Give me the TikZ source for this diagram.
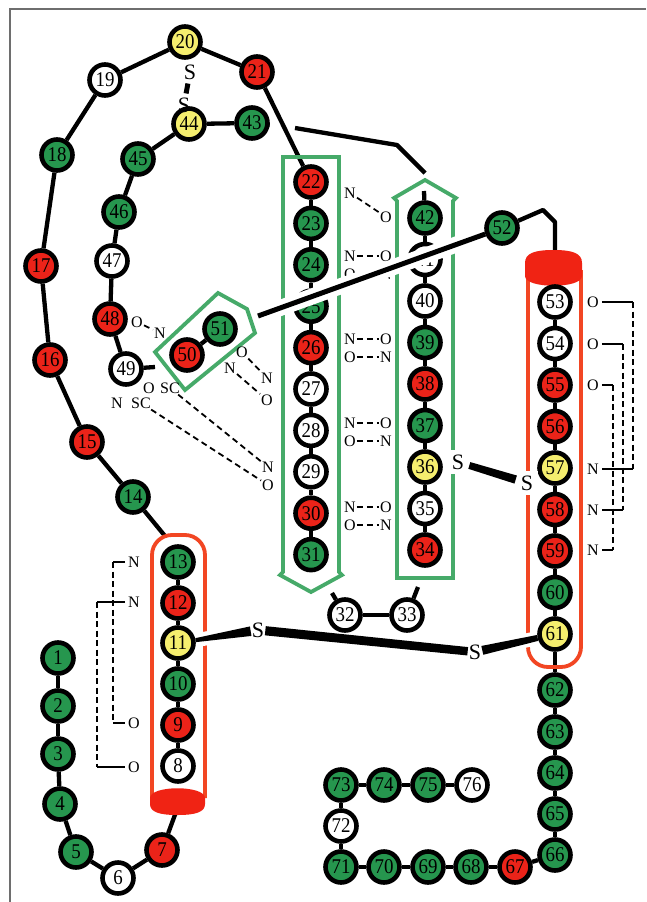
\documentclass[tikz,border=0pt]{standalone}
\usepackage{fontspec}
\setmainfont{Liberation Serif}
\newfontfamily\numfam[FakeStretch=0.9]{Liberation Serif}
\usetikzlibrary{calc}
\newcommand\resfont{\numfam\fontsize{21}{21}\selectfont}
\newcommand\labfont{\fontsize{16}{16}\selectfont}
\newcommand\ssfont{\fontsize{22}{22}\selectfont}
% tapered bond between two nodes: #1 start, #2 end, #3/#4 half widths
\newcommand\wedgebond[4]{%
  \path (#1) -- (#2) coordinate[pos=0] (wA) coordinate[pos=1] (wB);
  \fill ($(wA)!#3!90:(wB)$) -- ($(wB)!#4!-90:(wA)$) -- ($(wB)!#4!90:(wA)$) -- ($(wA)!#3!-90:(wB)$) -- cycle;}
\definecolor{resgreen}{RGB}{38,150,78}
\definecolor{resred}{RGB}{235,35,25}
\definecolor{resyellow}{RGB}{245,238,110}
\definecolor{helixred}{RGB}{242,70,35}
\definecolor{capred}{RGB}{240,35,20}
\definecolor{sheetgreen}{RGB}{70,170,105}
\definecolor{framegray}{RGB}{110,110,110}
\pgfdeclarelayer{backbone}
\pgfdeclarelayer{outlines}
\pgfdeclarelayer{front}
\pgfsetlayers{backbone,outlines,main,front}
\begin{document}
\begin{tikzpicture}[x=1pt,y=-1pt,
  res/.style={circle,draw=black,line width=4.6pt,minimum size=31pt,inner sep=0pt,font=\resfont},
  gres/.style={res,fill=resgreen},
  rres/.style={res,fill=resred},
  yres/.style={res,fill=resyellow},
  wres/.style={res,fill=white},
  link/.style={line width=4.3pt,line join=round},
  sheet/.style={draw=sheetgreen,line width=3.8pt,line join=miter},
  helix/.style={draw=helixred,line width=3.8pt},
  lab/.style={font=\labfont,inner sep=1pt},
  blab/.style={font=\labfont,inner sep=3pt},
  sulf/.style={font=\ssfont,inner sep=1pt},
  sgap/.style={font=\ssfont,inner sep=5pt,fill=white},
  hb/.style={line width=1.8pt,dash pattern=on 6pt off 4pt},
  brk/.style={line width=1.8pt,dash pattern=on 6pt off 3.5pt},
  brkend/.style={line width=1.8pt},
]
\useasboundingbox (0,0) rectangle (646,902);

% ---------- residues ----------
\node[gres] (n1) at (58,658) {1};
\node[gres] (n2) at (58,706) {2};
\node[gres] (n3) at (58,754) {3};
\node[gres] (n4) at (60,804) {4};
\node[gres] (n5) at (76,852) {5};
\node[wres] (n6) at (118,878) {6};
\node[rres] (n7) at (162,850) {7};
\node[wres] (n8) at (178,766) {8};
\node[rres] (n9) at (178,725) {9};
\node[gres] (n10) at (178,684) {10};
\node[yres] (n11) at (178,643) {11};
\node[rres] (n12) at (178,603) {12};
\node[gres] (n13) at (178,562) {13};
\node[gres] (n14) at (133,497) {14};
\node[rres] (n15) at (87,442) {15};
\node[rres] (n16) at (50,360) {16};
\node[rres] (n17) at (41,266) {17};
\node[gres] (n18) at (57,155) {18};
\node[wres] (n19) at (105,80) {19};
\node[yres] (n20) at (185,42) {20};
\node[rres] (n21) at (257,72) {21};
\node[rres] (n22) at (311,182) {22};
\node[gres] (n23) at (311,223.4) {23};
\node[gres] (n24) at (311,264.8) {24};
\node[gres] (n25) at (311,306.2) {25};
\node[rres] (n26) at (311,347.6) {26};
\node[wres] (n27) at (311,389) {27};
\node[wres] (n28) at (311,430.4) {28};
\node[wres] (n29) at (311,471.8) {29};
\node[rres] (n30) at (311,513.2) {30};
\node[gres] (n31) at (311,554.6) {31};
\node[wres] (n32) at (345,615) {32};
\node[wres] (n33) at (407,615) {33};
\node[rres] (n34) at (425,550) {34};
\node[wres] (n35) at (425,508.5) {35};
\node[yres] (n36) at (425,467) {36};
\node[gres] (n37) at (425,425.5) {37};
\node[rres] (n38) at (425,384) {38};
\node[gres] (n39) at (425,342.5) {39};
\node[wres] (n40) at (425,301) {40};
\node[wres] (n41) at (425,259.5) {41};
\node[gres] (n42) at (425,218) {42};
\node[gres] (n43) at (252,123) {43};
\node[yres] (n44) at (189,124) {44};
\node[gres] (n45) at (138,159) {45};
\node[gres] (n46) at (119,212) {46};
\node[wres] (n47) at (112,261) {47};
\node[rres] (n48) at (110,319) {48};
\node[wres] (n49) at (126,369) {49};
\node[rres] (n50) at (187,355) {50};
\node[gres] (n51) at (220,329) {51};
\node[gres] (n52) at (502,228) {52};
\node[wres] (n53) at (555,302) {53};
\node[wres] (n54) at (555,343.5) {54};
\node[rres] (n55) at (555,385) {55};
\node[rres] (n56) at (555,426.5) {56};
\node[yres] (n57) at (555,468) {57};
\node[rres] (n58) at (555,509.5) {58};
\node[rres] (n59) at (555,551) {59};
\node[gres] (n60) at (555,592.5) {60};
\node[yres] (n61) at (555,634) {61};
\node[gres] (n62) at (555,690) {62};
\node[gres] (n63) at (555,732) {63};
\node[gres] (n64) at (555,773) {64};
\node[gres] (n65) at (555,814) {65};
\node[gres] (n66) at (555,855) {66};
\node[rres] (n67) at (515,867) {67};
\node[gres] (n68) at (471,867) {68};
\node[gres] (n69) at (428,867) {69};
\node[gres] (n70) at (384,867) {70};
\node[gres] (n71) at (341,867) {71};
\node[wres] (n72) at (341,826) {72};
\node[gres] (n73) at (341,785) {73};
\node[gres] (n74) at (384,785) {74};
\node[gres] (n75) at (428,785) {75};
\node[wres] (n76) at (472,785) {76};

% free ends of backbone pieces
\coordinate (capL) at (176,812);
\coordinate (c14) at (165,536);
\coordinate (c32) at (332,593);
\coordinate (c33) at (418,587);
\coordinate (c42) at (424,191);
\coordinate (c43a) at (268,125);
\coordinate (c43b) at (295,128);
\coordinate (c43c) at (397,145);
\coordinate (c43d) at (425,173);
\coordinate (c49) at (155,367);
\coordinate (c51) at (258,316);
\coordinate (k52a) at (520,220);
\coordinate (k52b) at (543,210);
\coordinate (k52c) at (555,222);
\coordinate (c53) at (555,252);

% ---------- backbone ----------
\begin{pgfonlayer}{backbone}
  \fill[white] (0,0) rectangle (646,902);
  \draw[framegray,line width=2pt] (646,9) -- (10,9) -- (10,902);
  \foreach \a in {1,...,6} {\pgfmathtruncatemacro\b{\a+1}\draw[link] (n\a) -- (n\b);}
  \foreach \a in {8,...,12} {\pgfmathtruncatemacro\b{\a+1}\draw[link] (n\a) -- (n\b);}
  \foreach \a in {14,...,30} {\pgfmathtruncatemacro\b{\a+1}\draw[link] (n\a) -- (n\b);}
  \foreach \a in {34,...,41} {\pgfmathtruncatemacro\b{\a+1}\draw[link] (n\a) -- (n\b);}
  \foreach \a in {43,...,48} {\pgfmathtruncatemacro\b{\a+1}\draw[link] (n\a) -- (n\b);}
  \foreach \a in {53,...,75} {\pgfmathtruncatemacro\b{\a+1}\draw[link] (n\a) -- (n\b);}
  \draw[link] (n32) -- (n33);
  \draw[link] (n50) -- (n51);
  \draw[link] (n7) -- (capL);
  \draw[link] (n14) -- (c14);
  \draw[link] (c32) -- (n32);
  \draw[link] (n33) -- (c33);
  \draw[link] (c42) -- (n42);
  \draw[link] (n43) -- (c43a);
  \draw[link] (c43b) -- (c43c) -- (c43d);
  \draw[link] (n49) -- (c49);
  \draw[link] (n52) -- (k52a) -- (k52b) -- (k52c) -- (c53);
\end{pgfonlayer}

% ---------- sheets and helices ----------
\begin{pgfonlayer}{outlines}
  \draw[sheet] (283,157) -- (339,157) -- (339,572) -- (342,575) -- (311,592) -- (280,575) -- (283,572) -- cycle;
  \draw[sheet] (397,578) -- (397,201) -- (394,198) -- (425,180) -- (456,198) -- (453,201) -- (453,578) -- cycle;
  \draw[sheet] (155,352) -- (218,293) -- (247,309) -- (255,333) -- (185,390) -- cycle;
  \draw[helix,rounded corners=20pt] (152,798) -- (152,535) -- (205,535) -- (205,798);
  \fill[capred] (150,798) .. controls (150,785) and (205,785) .. (205,798) -- (205,804)
     .. controls (205,812) and (196,815) .. (177.5,815) .. controls (159,815) and (150,812) .. (150,804) -- cycle;
  \draw[helix,rounded corners=20pt] (528,270) -- (528,667) -- (581,667) -- (581,270);
  \fill[capred] (525,276) -- (525,263) .. controls (525,253) and (535,250) .. (553.5,250)
     .. controls (572,250) and (582,253) .. (582,263) -- (582,276) .. controls (582,289) and (525,289) .. (525,276) -- cycle;
\end{pgfonlayer}

\begin{pgfonlayer}{front}
  % hydrogen bonds between the strands
  \node[lab] (h1n) at (350,193) {N};  \node[lab] (h1o) at (386,217) {O};
  \node[lab] (h2n) at (350,256) {N};  \node[lab] (h2o) at (386,256) {O};
  \node[lab] (h3o) at (350,274) {O};  \node[lab] (h3n) at (386,274) {N};
  \node[lab] (h4n) at (350,339) {N};  \node[lab] (h4o) at (386,339) {O};
  \node[lab] (h5o) at (350,357) {O};  \node[lab] (h5n) at (386,357) {N};
  \node[lab] (h6n) at (350,423) {N};  \node[lab] (h6o) at (386,423) {O};
  \node[lab] (h7o) at (350,441) {O};  \node[lab] (h7n) at (386,441) {N};
  \node[lab] (h8n) at (350,507) {N};  \node[lab] (h8o) at (386,507) {O};
  \node[lab] (h9o) at (350,525) {O};  \node[lab] (h9n) at (386,525) {N};
  \draw[hb] (h1n) -- (h1o);
  \draw[hb] (h2n) -- (h2o);  \draw[hb] (h3o) -- (h3n);
  \draw[hb] (h4n) -- (h4o);  \draw[hb] (h5o) -- (h5n);
  \draw[hb] (h6n) -- (h6o);  \draw[hb] (h7o) -- (h7n);
  \draw[hb] (h8n) -- (h8o);  \draw[hb] (h9o) -- (h9n);

  % hydrogen bonds around the short strand
  \node[lab] (a1o) at (137,322) {O};  \node[lab] (a1n) at (160,333) {N};
  \node[lab] (a2o) at (242,352) {O};  \node[lab] (a2n) at (267,378) {N};
  \node[lab] (a3n) at (230,368) {N};  \node[lab] (a3o) at (267,400) {O};
  \node[lab] (a4o) at (149,388) {O};  \node[lab] (a4s) at (170,388) {SC};
  \node[lab] (a5n) at (117,403) {N};  \node[lab] (a5s) at (141,403) {SC};
  \node[lab] (a6n) at (268,467) {N};  \node[lab] (a6o) at (268,485) {O};
  \draw[hb] (a1o) -- (a1n);
  \draw[hb] (a2o) -- (a2n);
  \draw[hb] (a3n) -- (a3o);
  \draw[hb] (a4s) -- (a6n);
  \draw[hb] (a5s) -- (a6o);

  % helix i -> i+4 hydrogen bonds
  \node[blab] (bn1) at (134,562) {N};
  \node[blab] (bn2) at (134,602) {N};
  \node[blab] (bo1) at (134,723) {O};
  \node[blab] (bo2) at (134,767) {O};
  \coordinate (vL1) at (113,0);
  \coordinate (vL2) at (97,0);
  \draw[brkend] (bn1.west) -- (bn1.west -| vL1);
  \draw[brk] (bn1.west -| vL1) -- (bo1.west -| vL1);
  \draw[brkend] (bo1.west -| vL1) -- (bo1.west);
  \draw[brkend] (bn2.west) -- (bn2.west -| vL2);
  \draw[brk] (bn2.west -| vL2) -- (bo2.west -| vL2);
  \draw[brkend] (bo2.west -| vL2) -- (bo2.west);

  \node[blab] (rO1) at (593,302) {O};
  \node[blab] (rO2) at (593,344) {O};
  \node[blab] (rO3) at (593,385) {O};
  \node[blab] (rN1) at (593,469) {N};
  \node[blab] (rN2) at (593,510) {N};
  \node[blab] (rN3) at (593,550) {N};
  \coordinate (vR1) at (633,0);
  \coordinate (vR2) at (623,0);
  \coordinate (vR3) at (613,0);
  \draw[brkend] (rO1.east) -- (rO1.east -| vR1);
  \draw[brk] (rO1.east -| vR1) -- (rN1.east -| vR1);
  \draw[brkend] (rN1.east -| vR1) -- (rN1.east);
  \draw[brkend] (rO2.east) -- (rO2.east -| vR2);
  \draw[brk] (rO2.east -| vR2) -- (rN2.east -| vR2);
  \draw[brkend] (rN2.east -| vR2) -- (rN2.east);
  \draw[brkend] (rO3.east) -- (rO3.east -| vR3);
  \draw[brk] (rO3.east -| vR3) -- (rN3.east -| vR3);
  \draw[brkend] (rN3.east -| vR3) -- (rN3.east);

  % crossover connection 51 -> 52, passing over the sheet
  \draw[line width=5pt,preaction={draw=white,line width=16pt,shorten >=14pt}] (c51) -- (n52);

  % disulfide bridges
  \node[sulf] (s1) at (258,630) {S};
  \node[sulf] (s2) at (475,652) {S};
  \node[sgap] (s3) at (458,462) {S};
  \node[sgap] (s4) at (527,483) {S};
  \node[sulf] (s5) at (190,72) {S};
  \node[sulf] (s6) at (184,105) {S};
  \draw[white,line width=14pt,shorten <=3pt,shorten >=4pt] (n11) -- (s1);
  \wedgebond{n11}{s1}{2pt}{4.8pt}
  \wedgebond{s1}{s2}{4.6pt}{4.2pt}
  \draw[white,line width=14pt,shorten <=4pt,shorten >=6pt] (s2) -- (n61);
  \wedgebond{s2}{n61}{4.5pt}{3pt}
  \wedgebond{s3}{s4}{3.5pt}{4.2pt}
  \draw[line width=5pt,shorten <=3pt,shorten >=3pt] (s5) -- (s6);
\end{pgfonlayer}
\end{tikzpicture}
\end{document}
